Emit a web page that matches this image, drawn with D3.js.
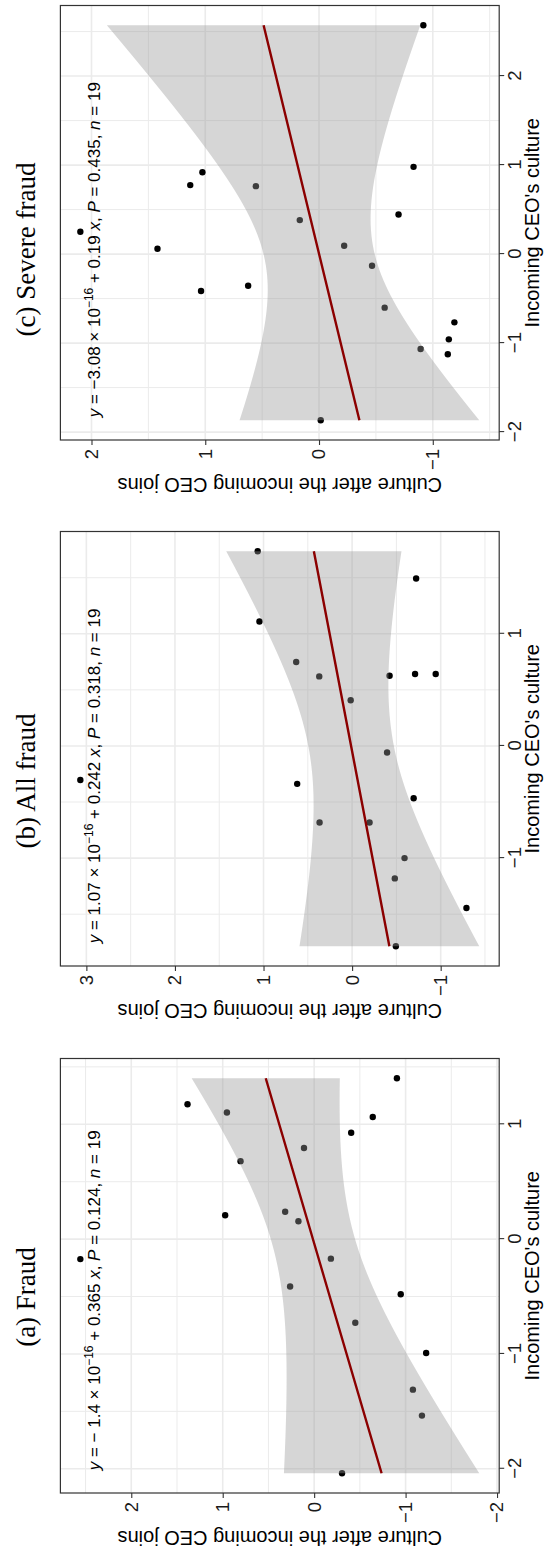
<!DOCTYPE html>
<html>
<head>
<meta charset="utf-8">
<script src="https://cdn.jsdelivr.net/npm/d3@7"></script>
<style>
  body { margin: 0; background: #fff; }
  svg { display: block; }
  text { white-space: pre; }
</style>
</head>
<body>
<svg id="chart"></svg>
<script>
// panel titles (LaTeX-style subcaptions)
const panelTitles = ['(a) Fraud', '(b) All fraud', '(c) Severe fraud'];

// (a) Fraud: incoming CEO's culture vs culture after the CEO joins
const fraudX = [-0.174, 1.174, 1.103, 0.679, 0.208, 0.239, 0.155, -0.412, -0.170, 0.793,
  0.927, 1.063, 1.401, -0.480, -0.728, -0.992, -1.311, -1.537, -2.039];
const fraudY = [2.557, 1.385, 0.954, 0.805, 0.973, 0.317, 0.172, 0.263, -0.183, 0.111,
  -0.405, -0.641, -0.905, -0.947, -0.450, -1.225, -1.080, -1.179, -0.305];

// (b) All fraud
const allFraudX = [-0.303, 1.736, 1.110, 1.493, 0.748, 0.620, 0.626, 0.641, 0.641, 0.407,
  -0.059, -0.338, -0.466, -0.682, -0.682, -1.000, -1.181, -1.445, -1.786];
const allFraudY = [3.068, 1.066, 1.046, -0.723, 0.631, 0.371, -0.423, -0.711, -0.944, 0.016,
  -0.395, 0.620, -0.695, 0.367, -0.197, -0.592, -0.482, -1.291, -0.494];

// (c) Severe fraud
const severeX = [0.251, 0.060, 0.775, 0.920, -0.415, -0.355, 0.763, 0.382, -1.867, 0.094,
  -0.131, -0.602, 0.445, 0.980, 2.571, -1.066, -1.126, -0.958, -0.767];
const severeY = [2.098, 1.420, 1.132, 1.025, 1.037, 0.623, 0.555, 0.169, -0.015, -0.221,
  -0.466, -0.577, -0.699, -0.831, -0.917, -0.893, -1.132, -1.141, -1.190];

// fitted-equation labels as printed on the chart
const eqIntercept = ['\u2212 1.4', '1.07', '\u22123.08'];
const eqExponent = '\u221216';
const eqSlope = ['0.365', '0.242', '0.19'];
const eqP = ['0.124', '0.318', '0.435'];
const eqN = ['19', '19', '19'];

const xTitle = "Incoming CEO's culture";
const yTitle = 'Culture after the incoming CEO joins';

const panels = [
  { x: fraudX, y: fraudY },
  { x: allFraudX, y: allFraudY },
  { x: severeX, y: severeY },
];

const svg = d3.select('#chart').attr('width', 548).attr('height', 1558);
svg.append('rect').attr('width', 548).attr('height', 1558).attr('fill', '#fff');

// the whole landscape figure is drawn, then turned a quarter turn
const root = svg.append('g').attr('transform', 'translate(0,1558) rotate(-90)');

const panelLeft = [65, 592, 1118];
const titleCentre = [261, 777, 1308.5];
const panelW = 434.5;
const panelTop = 60.4;
const panelBottom = 499.2;
const tCrit = 2.109816; // t quantile 0.975, df = 17
const sans = "'Liberation Sans', Arial, Helvetica, sans-serif";
const serif = "'Liberation Serif', 'Times New Roman', serif";

const expand = ([lo, hi]) => [lo - 0.05 * (hi - lo), hi + 0.05 * (hi - lo)];
const majors = ([lo, hi]) => d3.range(Math.ceil(lo), Math.floor(hi) + 1);
const minors = ([lo, hi]) =>
  d3.range(Math.ceil(lo * 2), Math.floor(hi * 2) + 1).map((v) => v / 2).filter((v) => v % 1 !== 0);

panels.forEach((p, i) => {
  const L = panelLeft[i];
  const xs = p.x;
  const ys = p.y;
  const n = xs.length;

  // ordinary least squares + 95% confidence band (like geom_smooth(method = 'lm'))
  const xm = d3.mean(xs);
  const ym = d3.mean(ys);
  const sxx = d3.sum(xs, (d) => (d - xm) ** 2);
  const sxy = d3.sum(xs, (d, k) => (d - xm) * (ys[k] - ym));
  const b = sxy / sxx;
  const a = ym - b * xm;
  const s = Math.sqrt(d3.sum(xs, (d, k) => (ys[k] - a - b * d) ** 2) / (n - 2));
  const [x0, x1] = d3.extent(xs);
  const fit = d3.range(80).map((k) => {
    const xv = x0 + ((x1 - x0) * k) / 79;
    const yh = a + b * xv;
    const se = s * Math.sqrt(1 / n + (xv - xm) ** 2 / sxx);
    return { x: xv, y: yh, lo: yh - tCrit * se, hi: yh + tCrit * se };
  });

  const xDom = expand([x0, x1]);
  const yDom = expand([
    Math.min(d3.min(ys), d3.min(fit, (d) => d.lo)),
    Math.max(d3.max(ys), d3.max(fit, (d) => d.hi)),
  ]);

  const xScale = d3.scaleLinear().domain(xDom).range([L, L + panelW]);
  const yScale = d3.scaleLinear().domain(yDom).range([panelBottom, panelTop]);

  const g = root.append('g');

  // grid
  const grid = g.append('g').attr('stroke', '#ebebeb');
  minors(xDom).forEach((v) => {
    grid.append('line').attr('x1', xScale(v)).attr('x2', xScale(v))
      .attr('y1', panelTop).attr('y2', panelBottom).attr('stroke-width', 1);
  });
  minors(yDom).forEach((v) => {
    grid.append('line').attr('y1', yScale(v)).attr('y2', yScale(v))
      .attr('x1', L).attr('x2', L + panelW).attr('stroke-width', 1);
  });
  majors(xDom).forEach((v) => {
    grid.append('line').attr('x1', xScale(v)).attr('x2', xScale(v))
      .attr('y1', panelTop).attr('y2', panelBottom).attr('stroke-width', 1.6);
  });
  majors(yDom).forEach((v) => {
    grid.append('line').attr('y1', yScale(v)).attr('y2', yScale(v))
      .attr('x1', L).attr('x2', L + panelW).attr('stroke-width', 1.6);
  });

  // points
  g.append('g')
    .selectAll('circle')
    .data(xs.map((d, k) => ({ x: d, y: ys[k] })))
    .enter()
    .append('circle')
    .attr('cx', (d) => xScale(d.x))
    .attr('cy', (d) => yScale(d.y))
    .attr('r', 3.2)
    .attr('fill', '#000');

  // confidence band
  const band = d3.area()
    .x((d) => xScale(d.x))
    .y0((d) => yScale(d.lo))
    .y1((d) => yScale(d.hi));
  g.append('path')
    .datum(fit)
    .attr('d', band)
    .attr('fill', '#999999')
    .attr('fill-opacity', 0.4);

  // fitted line
  const line = d3.line().x((d) => xScale(d.x)).y((d) => yScale(d.y));
  g.append('path')
    .datum(fit)
    .attr('d', line)
    .attr('fill', 'none')
    .attr('stroke', '#8b0000')
    .attr('stroke-width', 2.4);

  // panel border
  g.append('rect')
    .attr('x', L).attr('y', panelTop)
    .attr('width', panelW).attr('height', panelBottom - panelTop)
    .attr('fill', 'none').attr('stroke', '#333').attr('stroke-width', 1.2);

  // axes
  const xAxis = g.append('g')
    .attr('transform', `translate(0,${panelBottom})`)
    .call(d3.axisBottom(xScale).tickValues(majors(xDom)).tickSize(5).tickPadding(4).tickFormat(d3.format('d')));
  const yAxis = g.append('g')
    .attr('transform', `translate(${L},0)`)
    .call(d3.axisLeft(yScale).tickValues(majors(yDom)).tickSize(5).tickPadding(4).tickFormat(d3.format('d')));
  [xAxis, yAxis].forEach((ax) => {
    ax.select('.domain').remove();
    ax.selectAll('.tick line').attr('stroke', '#333').attr('stroke-width', 1.1);
    ax.selectAll('.tick text')
      .attr('fill', '#1a1a1a')
      .style('font-family', sans)
      .style('font-size', '18.5px');
  });

  // axis titles
  g.append('text')
    .attr('x', L + panelW / 2).attr('y', 539)
    .attr('text-anchor', 'middle')
    .style('font-family', sans).style('font-size', '20px').attr('fill', '#000')
    .text(xTitle);
  g.append('text')
    .attr('transform', `translate(${L - 37.6},${(panelTop + panelBottom) / 2}) rotate(-90)`)
    .attr('text-anchor', 'middle')
    .style('font-family', sans).style('font-size', '20px').attr('fill', '#000')
    .text(yTitle);

  // panel title
  g.append('text')
    .attr('x', titleCentre[i]).attr('y', 35)
    .attr('text-anchor', 'middle')
    .style('font-family', serif).style('font-size', '27px').attr('fill', '#000')
    .text(panelTitles[i]);

  // equation label
  const eq = g.append('text')
    .attr('x', L + 0.05 * panelW + 1).attr('y', panelTop + 39.5)
    .style('font-family', sans).style('font-size', '17px').attr('fill', '#000');
  eq.append('tspan').style('font-style', 'italic').text('y');
  eq.append('tspan').text(` = ${eqIntercept[i]} \u00d7 10`);
  eq.append('tspan').attr('dy', -7).style('font-size', '12px').text(eqExponent);
  eq.append('tspan').attr('dy', 7).text(` + ${eqSlope[i]} `);
  eq.append('tspan').style('font-style', 'italic').text('x');
  eq.append('tspan').text(', ');
  eq.append('tspan').style('font-style', 'italic').text('P');
  eq.append('tspan').text(` = ${eqP[i]}, `);
  eq.append('tspan').style('font-style', 'italic').text('n');
  eq.append('tspan').text(` = ${eqN[i]}`);
});
</script>
</body>
</html>
